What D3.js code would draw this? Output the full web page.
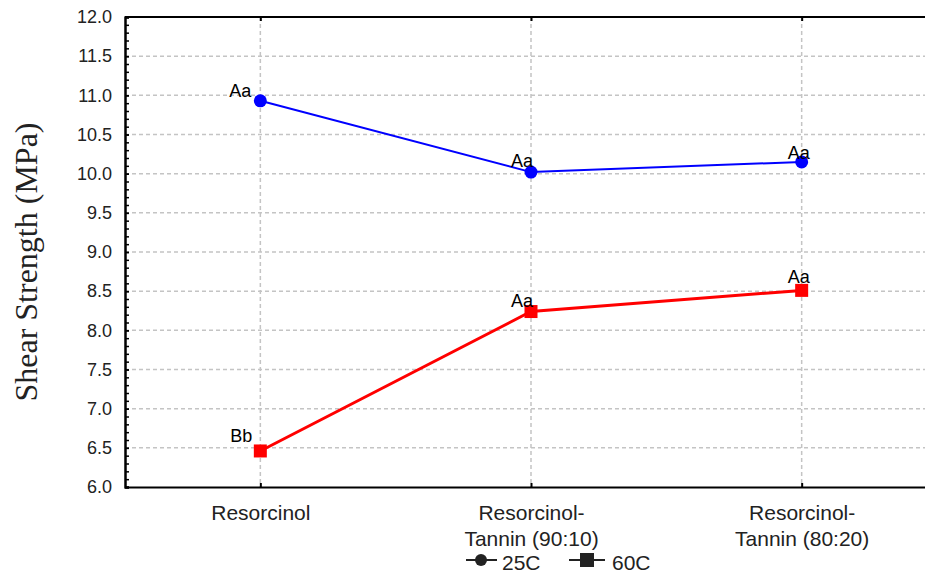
<!DOCTYPE html>
<html lang="en">
<head>
<meta charset="utf-8">
<title>Shear Strength</title>
<script src="https://cdn.jsdelivr.net/npm/d3@7"></script>
<style>
  body { margin: 0; background: #fff; }
  svg { display: block; }
</style>
</head>
<body>
<script>
// data
var categories = ["Resorcinol", "Resorcinol-\nTannin (90:10)", "Resorcinol-\nTannin (80:20)"];
var series25 = [10.93, 10.02, 10.15];
var series60 = [6.46, 8.24, 8.51];
var letters25 = ["Aa", "Aa", "Aa"];
var letters60 = ["Bb", "Aa", "Aa"];
var seriesNames = ["25C", "60C"];

var width = 925, height = 573;
var pLeft = 125, pTop = 17, pRight = 937, pBottom = 487;

var svg = d3.select("body").append("svg")
  .attr("width", width)
  .attr("height", height);

var x = d3.scalePoint().domain(categories).range([pLeft, pRight]).padding(0.5);
var y = d3.scaleLinear().domain([6, 12]).range([pBottom, pTop]);

var majors = d3.range(6, 12.001, 0.5);
var minors = d3.range(6, 12.001, 0.1);

// grid
var grid = svg.append("g").attr("stroke", "#c4c4c4").attr("stroke-width", 1.5).attr("stroke-dasharray", "4,3");
grid.selectAll("line.h").data(majors.filter(function(d){ return d > 6 && d < 12; })).enter()
  .append("line").attr("class", "h")
  .attr("x1", pLeft).attr("x2", pRight)
  .attr("y1", function(d){ return y(d); }).attr("y2", function(d){ return y(d); });
grid.selectAll("line.v").data(categories).enter()
  .append("line").attr("class", "v")
  .attr("x1", function(d){ return x(d); }).attr("x2", function(d){ return x(d); })
  .attr("y1", pTop).attr("y2", pBottom);

// frame top
svg.append("line").attr("x1", pLeft).attr("x2", pRight).attr("y1", pTop).attr("y2", pTop)
  .attr("stroke", "#000").attr("stroke-width", 2);

// y axis
var yMinor = svg.append("g").attr("transform", "translate(" + pLeft + ",0)")
  .call(d3.axisLeft(y).tickValues(minors).tickSize(-4).tickFormat(""));
var yAxis = svg.append("g").attr("transform", "translate(" + pLeft + ",0)")
  .call(d3.axisLeft(y).tickValues(majors).tickSize(-4).tickPadding(13).tickFormat(d3.format(".1f")));
[yMinor, yAxis].forEach(function(g){
  g.select(".domain").attr("stroke", "#000").attr("stroke-width", 2);
  g.selectAll(".tick line").attr("stroke", "#000").attr("stroke-width", 1.5);
});
yAxis.selectAll(".tick text")
  .attr("font-family", "Liberation Sans, Arial, sans-serif")
  .attr("font-size", 18).attr("fill", "#222");

// top category ticks
svg.append("g").attr("transform", "translate(0," + pTop + ")")
  .call(d3.axisTop(x).tickSize(-4).tickFormat(""))
  .call(function(g){ g.select(".domain").remove(); g.selectAll(".tick line").attr("stroke", "#000").attr("stroke-width", 2); });

// x axis
var xAxis = svg.append("g").attr("transform", "translate(0," + pBottom + ")")
  .call(d3.axisBottom(x).tickSize(-4).tickSizeOuter(0).tickFormat(""));
xAxis.select(".domain").attr("stroke", "#000").attr("stroke-width", 2);
xAxis.selectAll(".tick line").attr("stroke", "#000").attr("stroke-width", 2);
xAxis.selectAll(".tick").append("text")
  .attr("font-family", "Liberation Sans, Arial, sans-serif")
  .attr("font-size", 21).attr("fill", "#222")
  .attr("text-anchor", "middle")
  .each(function(d){
    var lines = d.split("\n");
    var t = d3.select(this);
    lines.forEach(function(s, i){
      t.append("tspan").attr("x", 0).attr("y", 33 + i * 26).text(s);
    });
  });

// y label
svg.append("text")
  .attr("transform", "translate(37,262) rotate(-90)")
  .attr("text-anchor", "middle")
  .attr("font-family", "Liberation Serif, Times New Roman, serif")
  .attr("font-size", 32).attr("fill", "#222")
  .text("Shear Strength (MPa)");

// lines and markers
var line = d3.line()
  .x(function(d, i){ return x(categories[i]); })
  .y(function(d){ return y(d); });

svg.append("path").datum(series25).attr("d", line)
  .attr("fill", "none").attr("stroke", "#0000ff").attr("stroke-width", 2);
svg.append("path").datum(series60).attr("d", line)
  .attr("fill", "none").attr("stroke", "#ff0000").attr("stroke-width", 3);

svg.selectAll("circle.p25").data(series25).enter().append("circle")
  .attr("class", "p25")
  .attr("cx", function(d, i){ return x(categories[i]); })
  .attr("cy", function(d){ return y(d); })
  .attr("r", 6.5).attr("fill", "#0000ff");

svg.selectAll("rect.p60").data(series60).enter().append("rect")
  .attr("class", "p60")
  .attr("x", function(d, i){ return x(categories[i]) - 6.5; })
  .attr("y", function(d){ return y(d) - 6.5; })
  .attr("width", 13).attr("height", 13).attr("fill", "#ff0000");

// letter annotations (offsets from each point)
var offs25 = [[-9, -4], [2, -5], [8, -3]];
var offs60 = [[-8, -9], [2, -5], [8, -7]];
function letters(vals, labs, offs) {
  svg.append("g").selectAll("text").data(vals).enter().append("text")
    .attr("x", function(d, i){ return x(categories[i]) + offs[i][0]; })
    .attr("y", function(d, i){ return y(d) + offs[i][1]; })
    .attr("text-anchor", "end")
    .attr("font-family", "Liberation Sans, Arial, sans-serif")
    .attr("font-size", 18).attr("fill", "#000")
    .text(function(d, i){ return labs[i]; });
}
letters(series25, letters25, offs25);
letters(series60, letters60, offs60);

// legend
var lg = svg.append("g").attr("font-family", "Liberation Sans, Arial, sans-serif").attr("font-size", 21).attr("fill", "#222");
lg.append("line").attr("x1", 466).attr("x2", 497).attr("y1", 560).attr("y2", 560).attr("stroke", "#222").attr("stroke-width", 2);
lg.append("circle").attr("cx", 481).attr("cy", 560).attr("r", 6).attr("fill", "#222");
lg.append("text").attr("x", 502).attr("y", 570).text(seriesNames[0]);
lg.append("line").attr("x1", 569).attr("x2", 605).attr("y1", 560).attr("y2", 560).attr("stroke", "#222").attr("stroke-width", 2);
lg.append("rect").attr("x", 580).attr("y", 553).attr("width", 14).attr("height", 14).attr("fill", "#222");
lg.append("text").attr("x", 612).attr("y", 570).text(seriesNames[1]);
</script>
</body>
</html>
